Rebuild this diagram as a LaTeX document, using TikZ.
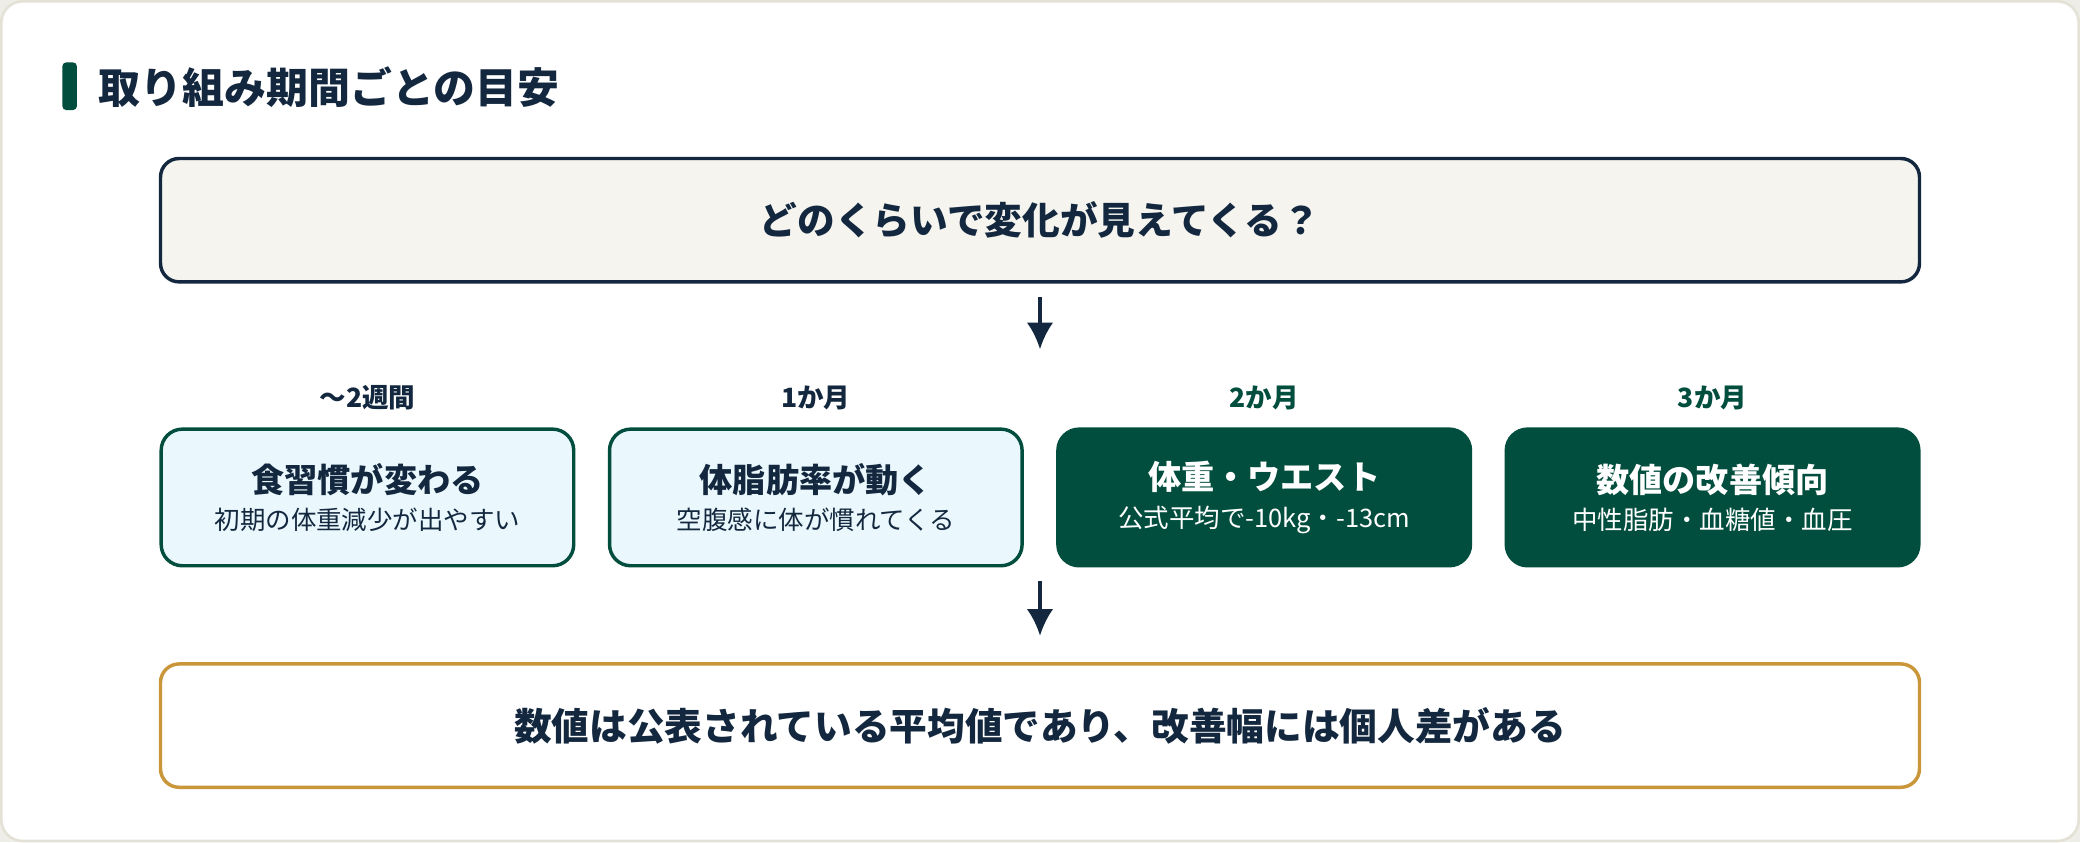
\documentclass[tikz,border=0pt]{standalone}
\usepackage{fontspec}
\setmainfont{Noto Sans CJK JP}
\usetikzlibrary{positioning,arrows.meta}
\definecolor{navy}{HTML}{13283F}
\definecolor{pine}{HTML}{024E3E}
\definecolor{ice}{HTML}{EAF7FC}
\definecolor{paper}{HTML}{F5F4EF}
\definecolor{gold}{HTML}{C9963A}
\definecolor{frame}{HTML}{E4E1D6}
\tikzset{>={Latex[length=10pt,width=10pt]}}
\tikzset{
  wide/.style={draw, line width=1.3pt, rounded corners=7pt, minimum width=663pt,
    minimum height=46.5pt, inner sep=0pt, font=\fontsize{14.2}{17}\selectfont\bfseries},
  stage/.style={draw=pine, fill=ice, text=navy, line width=1.3pt, rounded corners=8pt,
    minimum width=155.5pt, minimum height=51.5pt, inner sep=0pt, align=center},
  stagedark/.style={stage, fill=pine, text=white},
  period/.style={inner sep=0pt, font=\fontsize{10}{12}\selectfont\bfseries},
  arr/.style={->, navy, line width=1.3pt}
}
\newcommand{\stagetext}[2]{{\fontsize{12.5}{15}\selectfont\bfseries #1}\\[2pt]{\fontsize{9.6}{12}\selectfont #2}}

\begin{document}
\begin{tikzpicture}[x=0.5pt,y=-0.5pt]
  \useasboundingbox (0,0) rectangle (1568,635);
  \fill[frame!60] (0,0) rectangle (1568,635);
  \draw[frame, fill=white, line width=1pt, rounded corners=8pt] (1,1) rectangle (1567,634);
  \fill[pine, rounded corners=1.5pt] (47,47) rectangle (58,83);
  \node[anchor=west, inner sep=0pt, text=navy, font=\fontsize{15.8}{18}\selectfont\bfseries]
    (title) at (74,66) {取り組み期間ごとの目安};

  \node[wide, draw=navy, fill=paper, text=navy] (top) at (784,166) {どのくらいで変化が見えてくる？};

  \node[stage] (b1) at (277,375) {\stagetext{食習慣が変わる}{初期の体重減少が出やすい}};
  \node[stage, right=12.2pt of b1] (b2) {\stagetext{体脂肪率が動く}{空腹感に体が慣れてくる}};
  \node[stagedark, right=12.2pt of b2] (b3) {\stagetext{体重・ウエスト}{公式平均で-10kg・-13cm}};
  \node[stagedark, right=12.2pt of b3] (b4) {\stagetext{数値の改善傾向}{中性脂肪・血糖値・血圧}};

  \node[period, text=navy, above=6.5pt of b1] (p1) {～2週間};
  \node[period, text=navy, above=6.5pt of b2] (p2) {1か月};
  \node[period, text=pine, above=6.5pt of b3] (p3) {2か月};
  \node[period, text=pine, above=6.5pt of b4] (p4) {3か月};

  \node[wide, draw=gold, fill=white, text=navy] (note) at (784,547) {数値は公表されている平均値であり、改善幅には個人差がある};

  \draw[arr] ([yshift=-5pt]top.south) -- ([yshift=29.5pt]top.south |- b1.north);
  \draw[arr] ([yshift=-5pt]note.north |- b1.south) -- ([yshift=10pt]note.north);
\end{tikzpicture}
\end{document}
